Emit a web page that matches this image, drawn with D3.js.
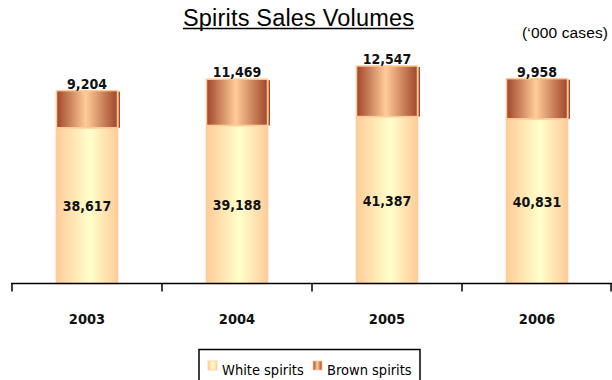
<!DOCTYPE html>
<html>
<head>
<meta charset="utf-8">
<script src="https://cdn.jsdelivr.net/npm/d3@7"></script>
<style>
  body { margin: 0; background: #fff; }
  svg { display: block; }
</style>
</head>
<body>
<svg id="chart" width="612" height="380"></svg>
<script>
// data
var years = ['2003', '2004', '2005', '2006'];
var whiteSpirits = [38617, 39188, 41387, 40831];
var brownSpirits = [9204, 11469, 12547, 9958];
var seriesNames = ['White spirits', 'Brown spirits'];

var svg = d3.select('#chart');
var font = '"DejaVu Sans Condensed", "DejaVu Sans", sans-serif';
var arial = 'Arial, "Liberation Sans", sans-serif';

// gradients
var defs = svg.append('defs');
var gWhite = defs.append('linearGradient').attr('id', 'gradWhite');
gWhite.append('stop').attr('offset', '0%').attr('stop-color', '#ffcc99');
gWhite.append('stop').attr('offset', '55%').attr('stop-color', '#ffffcc');
gWhite.append('stop').attr('offset', '100%').attr('stop-color', '#ffcc99');

var gBrown = defs.append('linearGradient').attr('id', 'gradBrown');
gBrown.append('stop').attr('offset', '0%').attr('stop-color', '#a0462a');
gBrown.append('stop').attr('offset', '48%').attr('stop-color', '#ffcc99');
gBrown.append('stop').attr('offset', '100%').attr('stop-color', '#a0462a');

// scales
var x = d3.scaleBand()
    .domain(years)
    .range([12, 612]);

var barWidth = 61;

var y = d3.scaleLinear()
    .domain([0, 60000])
    .range([283.5, 41.5]);

// title
svg.append('text')
    .attr('x', 183)
    .attr('y', 26)
    .attr('font-family', arial)
    .attr('font-size', 23.5)
    .attr('textLength', 231)
    .attr('lengthAdjust', 'spacing')
    .text('Spirits Sales Volumes');

svg.append('line')
    .attr('x1', 183).attr('x2', 414)
    .attr('y1', 28.5).attr('y2', 28.5)
    .attr('stroke', '#000')
    .attr('stroke-width', 1.5);

svg.append('text')
    .attr('x', 522)
    .attr('y', 38)
    .attr('font-family', arial)
    .attr('font-size', 15.5)
    .attr('textLength', 86)
    .attr('lengthAdjust', 'spacing')
    .text('(\u2018000 cases)');

// bars
var gBars = svg.append('g').attr('class', 'bars');

var rows = years.map(function(d, i){
    return {year: d, white: whiteSpirits[i], brown: brownSpirits[i]};
});

var col = gBars.selectAll('g.col')
    .data(rows)
    .enter().append('g')
    .attr('class', 'col')
    .attr('transform', function(d){
        return 'translate(' + (x(d.year) + x.bandwidth() / 2 - barWidth / 2) + ',0)';
    });

// white segment
col.append('rect')
    .attr('x', 0)
    .attr('y', function(d){ return y(d.white); })
    .attr('width', barWidth)
    .attr('height', function(d){ return y(0) - y(d.white); })
    .attr('fill', 'url(#gradWhite)')
    .attr('stroke', '#ffcc99')
    .attr('stroke-width', 1.5);

// brown segment
col.append('rect')
    .attr('x', 0)
    .attr('y', function(d){ return y(d.white + d.brown); })
    .attr('width', barWidth)
    .attr('height', function(d){ return y(d.white) - y(d.white + d.brown); })
    .attr('fill', 'url(#gradBrown)')
    .attr('stroke', '#ffcc99')
    .attr('stroke-width', 1.5);

// thin dark edge on right of brown segment
col.append('rect')
    .attr('x', barWidth + 1)
    .attr('y', function(d){ return y(d.white + d.brown) + 1; })
    .attr('width', 1.5)
    .attr('height', function(d){ return y(d.white) - y(d.white + d.brown) - 1; })
    .attr('fill', '#b04a1a');

// value labels
col.append('text')
    .attr('x', barWidth / 2)
    .attr('y', function(d){ return (y(d.white) + y(0)) / 2 + 5.5; })
    .attr('text-anchor', 'middle')
    .attr('font-family', font)
    .attr('font-weight', 'bold')
    .attr('font-size', 14)
    .attr('fill', '#111')
    .text(function(d){ return d3.format(',')(d.white); });

col.append('text')
    .attr('x', barWidth / 2)
    .attr('y', function(d){ return y(d.white + d.brown) - 2; })
    .attr('text-anchor', 'middle')
    .attr('font-family', font)
    .attr('font-weight', 'bold')
    .attr('font-size', 14)
    .attr('fill', '#111')
    .text(function(d){ return d3.format(',')(d.brown); });

// x axis
var xAxis = svg.append('g')
    .attr('transform', 'translate(0,' + y(0) + ')');

xAxis.append('line')
    .attr('x1', 11).attr('x2', 612)
    .attr('y1', 0).attr('y2', 0)
    .attr('stroke', '#000')
    .attr('stroke-width', 1.5);

var tickPos = years.map(function(d){ return x(d); }).concat([x.range()[1] - 1]);
xAxis.selectAll('line.tick')
    .data(tickPos)
    .enter().append('line')
    .attr('class', 'tick')
    .attr('x1', function(d){ return d; })
    .attr('x2', function(d){ return d; })
    .attr('y1', 0).attr('y2', 8)
    .attr('stroke', '#000')
    .attr('stroke-width', 1.5);

xAxis.selectAll('text')
    .data(years)
    .enter().append('text')
    .attr('x', function(d){ return x(d) + x.bandwidth() / 2; })
    .attr('y', 323.5 - y(0))
    .attr('text-anchor', 'middle')
    .attr('font-family', font)
    .attr('font-weight', 'bold')
    .attr('font-size', 14.5)
    .attr('fill', '#111')
    .text(function(d){ return d; });

// legend
var legend = svg.append('g').attr('class', 'legend');
legend.append('rect')
    .attr('x', 199).attr('y', 349.5)
    .attr('width', 221).attr('height', 40)
    .attr('fill', '#fff')
    .attr('stroke', '#000')
    .attr('stroke-width', 1.5);

var legendX = [208, 313];
var legendFill = ['url(#gradWhite)', 'url(#gradBrown)'];
var item = legend.selectAll('g.item')
    .data(seriesNames)
    .enter().append('g')
    .attr('class', 'item')
    .attr('transform', function(d, i){ return 'translate(' + legendX[i] + ',0)'; });

item.append('rect')
    .attr('x', 0).attr('y', 361)
    .attr('width', 9).attr('height', 9)
    .attr('fill', function(d, i){ return legendFill[i]; })
    .attr('stroke', '#ffcc99')
    .attr('stroke-width', 0.8);

item.append('text')
    .attr('x', 14)
    .attr('y', 375)
    .attr('font-family', font)
    .attr('font-size', 14.5)
    .text(function(d){ return d; });
</script>
</body>
</html>
